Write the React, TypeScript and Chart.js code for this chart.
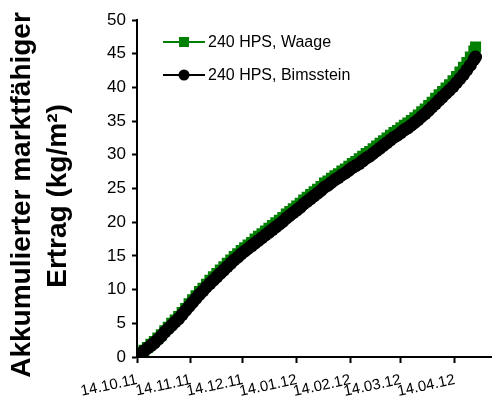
import React, { useEffect, useRef } from 'react';
import { Chart, registerables } from 'chart.js';

Chart.register(...registerables);

const FONT = '"Liberation Sans", Arial, Helvetica, sans-serif';

const tickDays = [0, 31, 61, 92, 123, 152, 183];
const tickLabels = ['14.10.11', '14.11.11', '14.12.11', '14.01.12', '14.02.12', '14.03.12', '14.04.12'];

const seriesNames = ['240 HPS, Waage', '240 HPS, Bimsstein'];
const yTitle = ['Akkumulierter marktfähiger', 'Ertrag (kg/m²)'];

// days after 14.10.11
const days = [
  0, 2, 4, 6, 8, 10, 12, 14, 16, 18, 20, 22, 24, 26, 28, 30, 32, 34, 36, 38,
  40, 42, 44, 46, 48, 50, 52, 54, 56, 58, 60, 62, 64, 66, 68, 70, 72, 74, 76, 78,
  80, 82, 84, 86, 88, 90, 92, 94, 96, 98, 100, 102, 104, 106, 108, 110, 112, 114, 116, 118,
  120, 122, 124, 126, 128, 130, 132, 134, 136, 138, 140, 142, 144, 146, 148, 150, 152, 154, 156, 158,
  160, 162, 164, 166, 168, 170, 172, 174, 176, 178, 180, 182, 184, 186, 188, 190, 192, 194, 195,
];

const waage = [
  0.3, 0.6, 1.0, 1.4, 1.9, 2.3, 2.8, 3.3, 3.9, 4.4, 5.0, 5.5, 6.0, 6.6, 7.2, 7.9, 8.5, 9.1, 9.7, 10.2,
  10.8, 11.4, 11.9, 12.4, 12.9, 13.4, 13.9, 14.4, 14.9, 15.3, 15.8, 16.2, 16.6, 17.0, 17.5, 17.9, 18.3, 18.7, 19.1, 19.5,
  19.9, 20.3, 20.7, 21.2, 21.6, 22.0, 22.4, 22.8, 23.3, 23.7, 24.1, 24.5, 24.9, 25.3, 25.8, 26.1, 26.5, 26.9, 27.2, 27.6,
  27.9, 28.3, 28.7, 29.0, 29.4, 29.8, 30.2, 30.5, 30.9, 31.3, 31.7, 32.1, 32.5, 32.9, 33.3, 33.6, 34.0, 34.4, 34.7, 35.1,
  35.5, 35.9, 36.4, 36.8, 37.3, 37.8, 38.4, 38.9, 39.4, 39.9, 40.4, 41.0, 41.6, 42.3, 43.0, 43.7, 44.5, 45.4, 46.0,
];

const bimsstein = [
  0.2, 0.5, 0.9, 1.3, 1.7, 2.1, 2.6, 3.1, 3.7, 4.2, 4.7, 5.2, 5.7, 6.3, 6.9, 7.5, 8.1, 8.7, 9.3, 9.8,
  10.4, 10.9, 11.4, 11.9, 12.4, 12.9, 13.4, 13.9, 14.4, 14.8, 15.3, 15.7, 16.1, 16.5, 16.9, 17.3, 17.7, 18.1, 18.5, 18.9,
  19.3, 19.7, 20.1, 20.6, 21.0, 21.4, 21.8, 22.2, 22.7, 23.1, 23.5, 23.9, 24.3, 24.7, 25.2, 25.5, 25.9, 26.3, 26.6, 27.0,
  27.3, 27.7, 28.1, 28.4, 28.7, 29.1, 29.5, 29.8, 30.2, 30.6, 31.0, 31.4, 31.8, 32.2, 32.6, 32.9, 33.3, 33.7, 34.0, 34.4,
  34.8, 35.2, 35.7, 36.1, 36.6, 37.1, 37.6, 38.1, 38.6, 39.1, 39.6, 40.1, 40.7, 41.3, 41.9, 42.6, 43.3, 44.1, 44.5,
];

const GREEN = '#008000';
const BLACK = '#000000';

const legendPlugin = {
  id: 'customLegend',
  afterDraw(chart: any) {
    const { ctx, chartArea } = chart;
    const items = [
      { label: seriesNames[0], color: GREEN, style: 'rect' },
      { label: seriesNames[1], color: BLACK, style: 'circle' },
    ];
    const x0 = chartArea.left + 26;
    const x1 = chartArea.left + 68;
    items.forEach((it, i) => {
      const y = chartArea.top + 22 + i * 33;
      ctx.save();
      ctx.strokeStyle = it.color;
      ctx.lineWidth = 2;
      ctx.beginPath();
      ctx.moveTo(x0, y);
      ctx.lineTo(x1, y);
      ctx.stroke();
      ctx.fillStyle = it.color;
      const cx = (x0 + x1) / 2;
      if (it.style === 'rect') {
        ctx.fillRect(cx - 5, y - 5, 10, 10);
      } else {
        ctx.beginPath();
        ctx.arc(cx, y, 5.5, 0, Math.PI * 2);
        ctx.fill();
      }
      ctx.fillStyle = '#000';
      ctx.font = `16px ${FONT}`;
      ctx.textBaseline = 'middle';
      ctx.textAlign = 'left';
      ctx.fillText(it.label, x1 + 3, y + 1);
      ctx.restore();
    });
  },
};

const yTitlePlugin = {
  id: 'yTitle',
  afterDraw(chart: any) {
    const { ctx } = chart;
    const baselines = [30, 66];
    const centers = [195, 196];
    ctx.save();
    ctx.fillStyle = '#000';
    ctx.font = `bold 28px ${FONT}`;
    ctx.textAlign = 'center';
    ctx.textBaseline = 'alphabetic';
    yTitle.forEach((line, i) => {
      ctx.save();
      ctx.translate(baselines[i], centers[i]);
      ctx.rotate(-Math.PI / 2);
      ctx.fillText(line, 0, 0);
      ctx.restore();
    });
    ctx.restore();
  },
};

export default function App() {
  const ref = useRef<HTMLCanvasElement | null>(null);

  useEffect(() => {
    if (!ref.current) return;
    const chart = new Chart(ref.current, {
      type: 'line',
      data: {
        datasets: [
          {
            label: seriesNames[1],
            data: days.map((d, i) => ({ x: d, y: bimsstein[i] })),
            borderColor: BLACK,
            backgroundColor: BLACK,
            borderWidth: 2,
            pointStyle: 'circle',
            pointRadius: 6.5,
            pointBorderWidth: 0,
            order: 0,
          },
          {
            label: seriesNames[0],
            data: days.map((d, i) => ({ x: d, y: waage[i] })),
            borderColor: GREEN,
            backgroundColor: GREEN,
            borderWidth: 2,
            pointStyle: 'rect',
            pointRadius: 7.8,
            pointBorderWidth: 0,
            order: 1,
          },
        ],
      },
      options: {
        animation: false,
        responsive: true,
        maintainAspectRatio: false,
        layout: { padding: { left: 0, top: 20, right: 3, bottom: 0 } },
        plugins: { legend: { display: false }, tooltip: { enabled: false } },
        scales: {
          x: {
            type: 'linear',
            min: 0,
            max: 204,
            afterBuildTicks: (s: any) => {
              s.ticks = tickDays.map((v) => ({ value: v }));
            },
            afterFit: (s: any) => {
              s.height = 55;
            },
            ticks: {
              autoSkip: false,
              minRotation: 12,
              maxRotation: 12,
              padding: 8,
              color: '#000',
              font: { family: FONT, size: 15 },
              callback: (_v: any, i: number) => tickLabels[i] ?? '',
            },
            grid: {
              drawOnChartArea: false,
              drawTicks: true,
              tickLength: 6,
              tickWidth: 2,
              tickColor: '#000',
            },
            border: { display: true, color: '#000', width: 2 },
          },
          y: {
            min: 0,
            max: 50,
            afterFit: (s: any) => {
              s.width = 137;
            },
            ticks: {
              stepSize: 5,
              padding: 6,
              color: '#000',
              font: { family: FONT, size: 17 },
            },
            grid: {
              drawOnChartArea: false,
              drawTicks: true,
              tickLength: 5,
              tickWidth: 2,
              tickColor: '#000',
            },
            border: { display: true, color: '#000', width: 2 },
            title: { display: false },
          },
        },
      },
      plugins: [legendPlugin, yTitlePlugin],
    });
    return () => chart.destroy();
  }, []);

  return (
    <div style={{ position: 'absolute', left: 0, top: 0, width: 499, height: 412, background: '#fff' }}>
      <canvas ref={ref} style={{ width: '499px', height: '412px' }} />
    </div>
  );
}
